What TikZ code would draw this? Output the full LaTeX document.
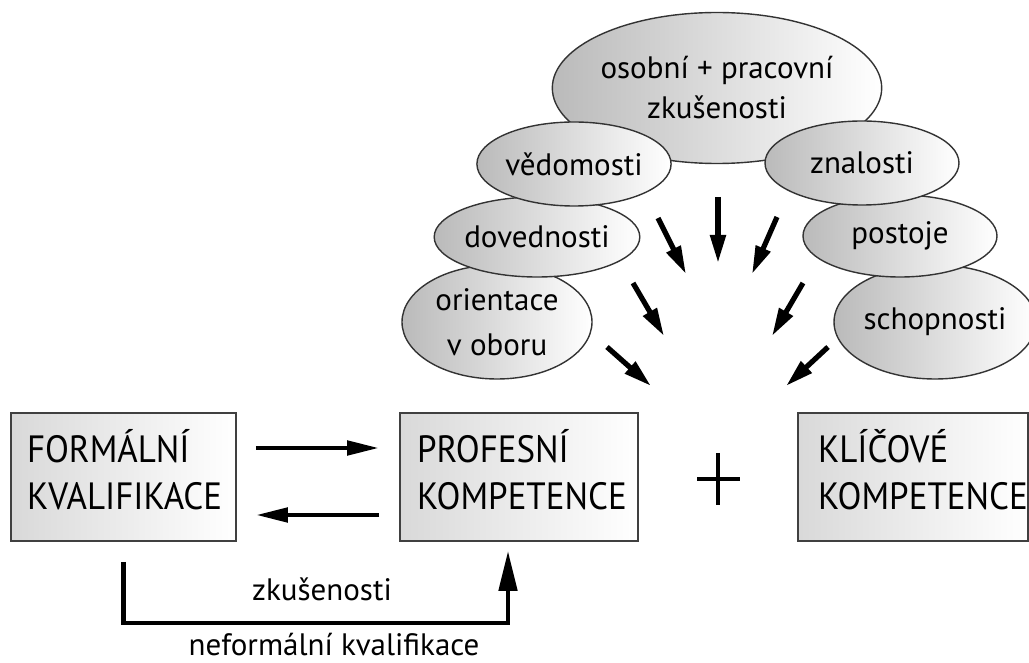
\documentclass[tikz,border=0pt]{standalone}
\usepackage{fontspec}
\setmainfont{PT Sans}
\newfontfamily\capsfont{PT Sans}[FakeStretch=0.92]
\usetikzlibrary{shapes.geometric,arrows.meta}
\begin{document}
\begin{tikzpicture}[x=0.5pt,y=-0.5pt,
  bubble/.style={ellipse, draw=black!80, line width=0.7pt,
    left color=black!27, middle color=black!7, right color=white,
    inner sep=0pt, align=center, font=\fontsize{15.5}{20}\selectfont},
  panel/.style={rectangle, draw=black!75, line width=0.8pt,
    left color=black!15, right color=white, minimum height=64pt,
    inner xsep=8pt, align=left, text height=13.3pt, text depth=27.3pt,
    font=\capsfont\fontsize{19}{23.5}\selectfont},
  label/.style={inner sep=0pt, anchor=base, font=\fontsize{15.5}{18}\selectfont},
  fat/.style={line width=2.6pt, -{Triangle[length=14pt,width=7.5pt]}},
  link/.style={line width=2.4pt, -{Triangle[length=16pt,width=7pt]}},
  route/.style={line width=2.3pt, -{Triangle[length=20pt,width=9pt]}},
]
\useasboundingbox (0,0) rectangle (1029,663);

% main boxes
\node[panel, minimum width=112.5pt, text width=96.5pt] (f) at (123.5,477)
  {FORMÁLNÍ\\\mbox{KVALIFIKACE}};
\node[panel, minimum width=119pt, inner xsep=8.5pt, text width=102pt] (p) at (519,477)
  {PROFESNÍ\\\mbox{KOMPETENCE}};
\node[panel, minimum width=115pt, inner xsep=10pt, text width=95pt] (k) at (913,477)
  {KLÍČOVÉ\\\mbox{KOMPETENCE}};

% plus sign
\node[inner sep=0pt, minimum size=0pt] (plus) at (718,479) {};
\draw[line width=2pt] (697,479) -- (740,479) (718,453) -- (718,505);

% bubbles, back to front
\node[bubble, minimum width=139.5pt, minimum height=75.5pt] (top) at (717,88)
  {osobní + pracovní\\zkušenosti};
\node[bubble, minimum width=95pt, minimum height=57pt,
  font=\fontsize{15.5}{22.5}\selectfont] (ori) at (497,322) {orientace\\v oboru};
\node[bubble, minimum width=95pt, minimum height=40pt] (dov) at (537,237) {dovednosti};
\node[bubble, minimum width=96pt, minimum height=42pt] (ved) at (574,164) {vědomosti};
\node[bubble, minimum width=92pt, minimum height=57pt] (sch) at (935,322) {schopnosti};
\node[bubble, minimum width=97pt, minimum height=41pt] (pos) at (900,236) {postoje};
\node[bubble, minimum width=97pt, minimum height=42pt] (zna) at (862,163) {znalosti};

% converging arrows
\coordinate (a1s) at (718,197);  \coordinate (a1e) at (718,263);
\coordinate (a2s) at (658,218);  \coordinate (a2e) at (686,274);
\coordinate (a3s) at (777,217);  \coordinate (a3e) at (752,274);
\coordinate (a4s) at (633,283);  \coordinate (a4e) at (664,336);
\coordinate (a5s) at (803,283);  \coordinate (a5e) at (772,336);
\coordinate (a6s) at (607,347);  \coordinate (a6e) at (651,386);
\coordinate (a7s) at (828,347);  \coordinate (a7e) at (786,386);
\foreach \i in {1,...,7} \draw[fat] (a\i s) -- (a\i e);

% arrows between the boxes
\draw[link, shorten <=9.5pt, shorten >=10pt] ([yshift=14.5pt]f.east) -- ([yshift=14.5pt]p.west);
\draw[link, shorten <=10pt, shorten >=9.5pt] ([yshift=-19pt]p.west) -- ([yshift=-19pt]f.east);

% informal route underneath
\draw[route, shorten <=10pt, shorten >=4.5pt]
  (f.south) -- ++(0,81) -| ([xshift=-5.5pt]p.south);
\node[label] (zk) at (322,600) {zkušenosti};
\node[label] (nk) at (334,655) {neformální kvalifikace};
\end{tikzpicture}
\end{document}
